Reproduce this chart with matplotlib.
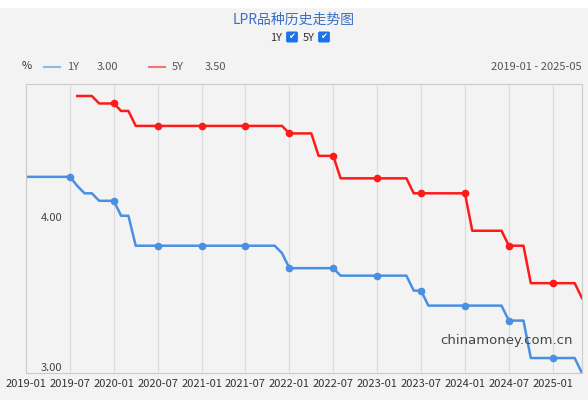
import matplotlib
matplotlib.use("Agg")
import matplotlib.pyplot as plt
from matplotlib.patches import FancyBboxPatch, Rectangle
import numpy as np

plt.rcParams['font.family'] = ['Noto Sans CJK SC', 'DejaVu Sans']

months = [f"{y}-{m:02d}" for y in range(2019, 2026) for m in range(1, 13)][:77]
lpr_1y = ([4.31]*7 + [4.25, 4.20, 4.20, 4.15, 4.15, 4.15, 4.05, 4.05] + [3.85]*20 + [3.80]
          + [3.70]*7 + [3.65]*10 + [3.55, 3.55] + [3.45]*11 + [3.35]*3 + [3.10]*7 + [3.00])
lpr_5y = ([np.nan]*7 + [4.85, 4.85, 4.85, 4.80, 4.80, 4.80, 4.75, 4.75] + [4.65]*20 + [4.65]
          + [4.60]*4 + [4.45]*3 + [4.30]*10 + [4.20]*2 + [4.20]*6 + [3.95]*5 + [3.85]*3 + [3.60]*7 + [3.50])
xticklabels = months[::6]

blue = "#4a90e2"
red = "#ff1a1a"
fig = plt.figure(figsize=(5.88, 4.0), dpi=100)
fig.patch.set_facecolor("#f3f3f3")
fig.add_artist(Rectangle((0, 393/400), 1, 7/400, transform=fig.transFigure, color="white"))

ax = fig.add_axes([26/588, 27/400, 556/588, 289/400])
ax.set_facecolor("#f3f3f3")
x = np.arange(len(months))
ax.plot(x, lpr_1y, color=blue, lw=1.8)
ax.plot(x, lpr_5y, color=red, lw=1.8)
mk = x[6::6]
ax.plot(mk, np.array(lpr_1y)[mk], 'o', color=blue, ms=4.5)
ax.plot(mk, np.array(lpr_5y)[mk], 'o', color=red, ms=4.5)
ax.set_xlim(0, len(months) - 1)
ax.set_ylim(3.0, 4.93)
ax.set_xticks(x[::6])
ax.set_xticklabels(xticklabels, fontsize=8, color="#333333")
ax.set_yticks([])
ax.tick_params(axis='x', length=0, pad=4)
ax.grid(axis='x', color="#dcdde3", lw=0.9)
for s in ax.spines.values():
    s.set_color("#cccccc")
ax.text(2, 4.0, "4.00", fontsize=8, color="#444444", va='bottom')
ax.text(2, 3.0, "3.00", fontsize=8, color="#444444", va='bottom')
ax.text(0.745, 0.1, "chinamoney.com.cn", transform=ax.transAxes, fontsize=9.5, color="#444444",
        family=['DejaVu Sans'])

def fy(py):
    return 1 - py/400

fig.text(0.5, fy(20), "LPR品种历史走势图", ha='center', va='center', fontsize=10, color="#3a6fc4")
fig.text(270/588, fy(38), "1Y", ha='left', va='center', fontsize=8, color="#333333")
fig.text(303/588, fy(38), "5Y", ha='left', va='center', fontsize=8, color="#333333")
for cx in (288, 320):
    fig.add_artist(FancyBboxPatch(((cx)/588, fy(41)), 8/588, 8/400, boxstyle="round,pad=0.002",
                                  transform=fig.transFigure, color="#1a73e8"))
    fig.text((cx+4)/588, fy(37), "✔", ha='center', va='center', fontsize=6, color="white",
             family=['DejaVu Sans'])
fig.text(22/588, fy(66), "%", fontsize=8, color="#333333", va='center')
fig.add_artist(plt.Line2D([44/588, 60/588], [fy(67)]*2, color=blue, lw=1.5, alpha=0.6))
fig.text(67/588, fy(67), "1Y", fontsize=8, color="#555555", va='center')
fig.text(97/588, fy(67), "3.00", fontsize=8, color="#555555", va='center')
fig.add_artist(plt.Line2D([149/588, 165/588], [fy(67)]*2, color=red, lw=1.5, alpha=0.6))
fig.text(172/588, fy(67), "5Y", fontsize=8, color="#555555", va='center')
fig.text(205/588, fy(67), "3.50", fontsize=8, color="#555555", va='center')
fig.text(582/588, fy(67), "2019-01 - 2025-05", ha='right', fontsize=8, color="#555555", va='center')

fig.savefig("out.png", dpi=100, facecolor=fig.get_facecolor())
